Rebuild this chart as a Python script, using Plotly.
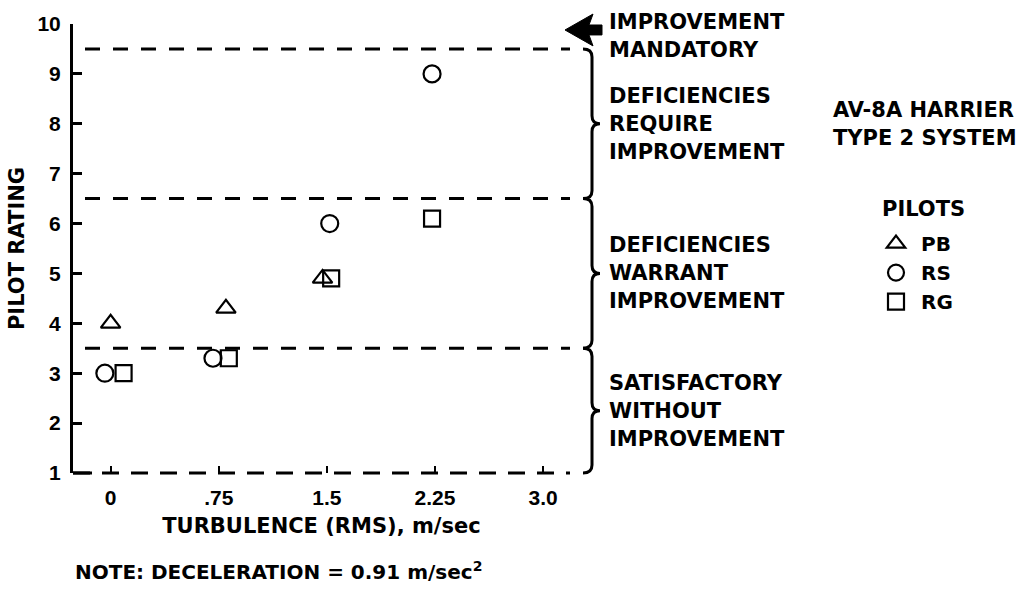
import plotly.graph_objects as go

# ---------------- data ----------------
pilots = ["PB", "RS", "RG"]
symbols = ["triangle-up-open", "circle-open", "square-open"]
pb_turb = [0.0, 0.80, 1.47]
pb_rating = [4.0, 4.3, 4.9]
rs_turb = [-0.04, 0.71, 1.52, 2.23]
rs_rating = [3.0, 3.3, 6.0, 9.0]
rg_turb = [0.09, 0.82, 1.53, 2.23]
rg_rating = [3.0, 3.3, 4.9, 6.1]

x_tick_vals = [0, 0.75, 1.5, 2.25, 3.0]
x_tick_text = ["0", ".75", "1.5", "2.25", "3.0"]
y_tick_vals = [1, 2, 3, 4, 5, 6, 7, 8, 9, 10]

band_bounds = [9.5, 6.5, 3.5]          # dashed rating boundaries
band_lines = [
    ["IMPROVEMENT", "MANDATORY"],
    ["DEFICIENCIES", "REQUIRE", "IMPROVEMENT"],
    ["DEFICIENCIES", "WARRANT", "IMPROVEMENT"],
    ["SATISFACTORY", "WITHOUT", "IMPROVEMENT"],
]
band_centers = [9.75, 8.0, 5.0, 2.25]
brace_spans = [(9.5, 6.5), (6.5, 3.5), (3.5, 1.0)]

aircraft_lines = ["AV-8A HARRIER", "TYPE 2 SYSTEM"]
legend_title = "PILOTS"
x_title = "TURBULENCE (RMS), m/sec"
y_title = "PILOT RATING"
note_text = "NOTE: DECELERATION = 0.91 m/sec<sup>2</sup>"

# ---------------- layout geometry ----------------
W, H = 1024, 599
L, R, T, B = 73, 570, 22, 473      # plot area in pixels
X0, X1 = -0.261, 3.187             # x range
Y0, Y1 = 1.0, 10.0

def px(xp):
    return (xp - L) / (R - L)

def py(yp):
    return (B - yp) / (B - T)

def ypix(v):
    return B - (v - Y0) / (Y1 - Y0) * (B - T)

WORD_FONT = dict(family="DejaVu Sans", size=21, color="black", weight="bold")
NUM_FONT = dict(family="Liberation Sans", size=21, color="black", weight="bold")

fig = go.Figure()
series = [(pb_turb, pb_rating), (rs_turb, rs_rating), (rg_turb, rg_rating)]
sizes = [17, 17, 16]
for name, sym, (xs, ys), sz in zip(pilots, symbols, series, sizes):
    fig.add_trace(go.Scatter(
        x=xs, y=ys, mode="markers", name=name, cliponaxis=False,
        marker=dict(symbol=sym, size=sz, color="black", line=dict(width=2.2, color="black")),
    ))

shapes = []
# dashed band boundaries
for b in band_bounds:
    shapes.append(dict(type="line", xref="paper", yref="y", x0=px(85), x1=1.0, y0=b, y1=b,
                       line=dict(color="black", width=3, dash="15px,13px")))
# dashed bottom axis
shapes.append(dict(type="line", xref="paper", yref="paper", x0=0, x1=1.0, y0=0, y1=0,
                   line=dict(color="black", width=3, dash="17px,12px")))
shapes.append(dict(type="line", xref="paper", yref="paper", x0=0, x1=px(92), y0=0, y1=0,
                   line=dict(color="black", width=3)))

# braces
def brace_path(ytop_v, ybot_v):
    yt, yb = ypix(ytop_v), ypix(ybot_v)
    ym = (yt + yb) / 2
    x0, xm, xt, r = 583, 592, 600, 8
    pts = [
        ("M", [(x0, yt)]),
        ("Q", [(xm, yt), (xm, yt + r)]),
        ("L", [(xm, ym - r)]),
        ("Q", [(xm, ym), (xt, ym)]),
        ("Q", [(xm, ym), (xm, ym + r)]),
        ("L", [(xm, yb - r)]),
        ("Q", [(xm, yb), (x0, yb)]),
    ]
    s = ""
    for cmd, pl in pts:
        s += cmd + " " + " ".join(f"{px(a):.5f},{py(b):.5f}" for a, b in pl) + " "
    return s.strip()

for top, bot in brace_spans:
    shapes.append(dict(type="path", xref="paper", yref="paper", path=brace_path(top, bot),
                       line=dict(color="black", width=3)))

# arrow for "improvement mandatory"
arrow_pts = [(565, 28), (593, 12), (589, 23), (602, 23), (602, 33), (589, 33), (593, 44)]
arrow_path = "M " + " L ".join(f"{px(a):.5f},{py(b):.5f}" for a, b in arrow_pts) + " Z"
shapes.append(dict(type="path", xref="paper", yref="paper", path=arrow_path,
                   fillcolor="black", line=dict(color="black", width=1)))

annotations = []
LINE = 28
for lines, c in zip(band_lines, band_centers):
    n = len(lines)
    for i, t in enumerate(lines):
        off = ((n - 1) / 2 - i) * LINE
        annotations.append(dict(text=t, xref="paper", yref="y", x=px(607), y=c, yshift=off,
                                xanchor="left", yanchor="middle", showarrow=False, font=WORD_FONT))
for i, t in enumerate(aircraft_lines):
    annotations.append(dict(text=t, xref="paper", yref="y", x=px(831), y=8.0,
                            yshift=(0.5 - i) * LINE, xanchor="left", yanchor="middle",
                            showarrow=False, font=WORD_FONT))
annotations.append(dict(text=legend_title, xref="paper", yref="paper", x=px(880), y=py(208),
                        xanchor="left", yanchor="middle", showarrow=False, font=WORD_FONT))
annotations.append(dict(text=note_text, xref="paper", yref="paper", x=px(73), y=py(571),
                        xanchor="left", yanchor="middle", showarrow=False,
                        font=dict(WORD_FONT, size=20)))

fig.update_layout(
    width=W, height=H,
    margin=dict(l=L, r=W - R, t=T, b=H - B, pad=0),
    paper_bgcolor="white", plot_bgcolor="white",
    showlegend=True,
    legend=dict(x=px(871), y=py(223), xanchor="left", yanchor="top",
                font=dict(family="DejaVu Sans", size=20, color="black", weight="bold"),
                itemwidth=40, tracegroupgap=0,
                bgcolor="rgba(0,0,0,0)", borderwidth=0, itemclick=False),
    shapes=shapes,
    annotations=annotations,
    xaxis=dict(range=[X0, X1], tickmode="array", tickvals=x_tick_vals, ticktext=x_tick_text,
               ticks="inside", ticklen=7, tickwidth=2, tickcolor="black",
               showline=False, showgrid=False, zeroline=False,
               tickfont=NUM_FONT, ticklabelstandoff=10,
               title=dict(text=x_title, font=WORD_FONT, standoff=10)),
    yaxis=dict(range=[Y0, Y1], tickmode="array", tickvals=y_tick_vals,
               ticks="inside", ticklen=9, tickwidth=2.5, tickcolor="black",
               showline=True, linewidth=3, linecolor="black",
               showgrid=False, zeroline=False,
               tickfont=NUM_FONT, ticklabelstandoff=5,
               title=dict(text=y_title, font=WORD_FONT, standoff=8)),
)

fig.write_html("out.html")
